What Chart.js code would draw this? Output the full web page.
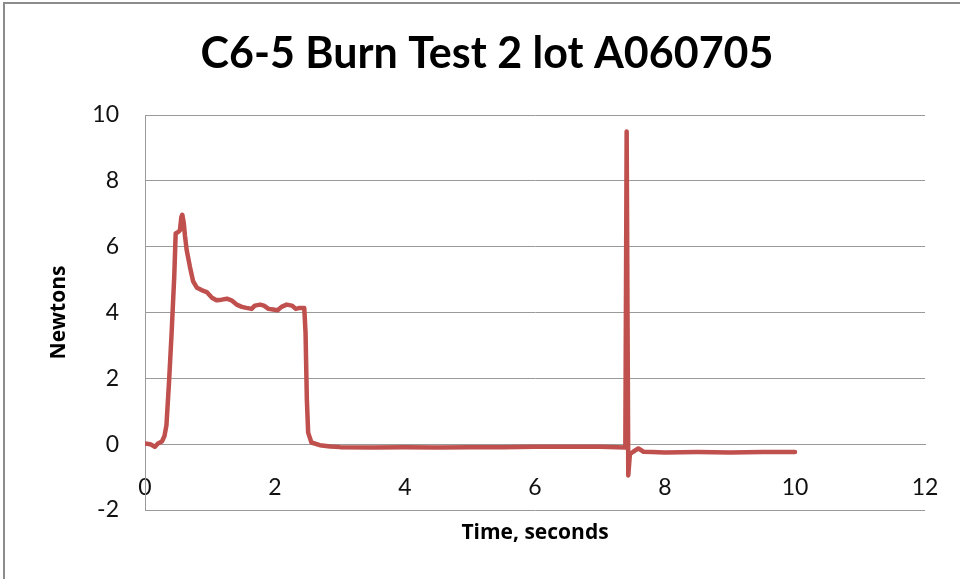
<!DOCTYPE html>
<html>
<head>
<meta charset="utf-8">
<script src="https://cdn.jsdelivr.net/npm/chart.js@4.4.1/dist/chart.umd.min.js"></script>
<style>
  html, body { margin: 0; padding: 0; background: #fff; }
  #wrap { position: relative; width: 960px; height: 579px; overflow: hidden; }
  #frame { position: absolute; left: 3px; top: 2px; width: 980px; height: 600px;
           border-top: 2px solid #8c8c8c; border-left: 2px solid #8c8c8c; pointer-events: none; }
</style>
</head>
<body>
<div id="wrap">
  <canvas id="c" width="960" height="579"></canvas>
  <div id="frame"></div>
</div>
<script>
const chartTitle = 'C6-5 Burn Test 2 lot A060705';
const xTitle = 'Time, seconds';
const yTitle = 'Newtons';
const xTicks = [0, 2, 4, 6, 8, 10, 12];
const yTicks = [-2, 0, 2, 4, 6, 8, 10];

const timeSec = [
  0, 0.08, 0.15, 0.2, 0.26, 0.3, 0.33, 0.37, 0.41, 0.45, 0.472, 0.513, 0.538, 0.559, 0.574, 0.595, 0.615, 0.641,
  0.69, 0.74, 0.8, 0.87, 0.95, 1.03, 1.1, 1.18, 1.26, 1.33, 1.41, 1.49, 1.56, 1.64, 1.69, 1.77, 1.83, 1.9,
  1.97, 2.04, 2.1, 2.18, 2.26, 2.32, 2.38, 2.45, 2.47, 2.49, 2.51, 2.56, 2.69, 2.85, 3.0, 3.5, 4.0, 4.5,
  5.0, 5.5, 6.0, 6.5, 7.0, 7.39, 7.41, 7.435, 7.46, 7.51, 7.59, 7.67, 7.8, 8.0, 8.5, 9.0, 9.5, 10.0
];
const thrustN = [
  0.02, 0.0, -0.08, 0.02, 0.08, 0.25, 0.58, 1.9, 3.4, 5.1, 6.4, 6.45, 6.5, 6.9, 6.97, 6.74, 6.33, 5.9,
  5.4, 4.95, 4.75, 4.68, 4.62, 4.45, 4.37, 4.39, 4.42, 4.37, 4.24, 4.17, 4.14, 4.11, 4.21, 4.24, 4.21, 4.11,
  4.09, 4.07, 4.17, 4.24, 4.21, 4.11, 4.14, 4.14, 3.38, 1.36, 0.35, 0.05, -0.03, -0.07, -0.09, -0.1, -0.09, -0.1,
  -0.09, -0.09, -0.08, -0.08, -0.08, -0.1, 9.5, -0.95, -0.3, -0.23, -0.13, -0.23, -0.24, -0.25, -0.24, -0.25, -0.24, -0.24
];

const points = timeSec.map((t, i) => ({ x: t, y: thrustN[i] }));

const gridColor = '#9a9a9a';
const textColor = '#111111';
const tickFont = "Lato, 'Open Sans', sans-serif";
const labelFont = "'Open Sans', Lato, sans-serif";
const noSidePad = (s) => { s.paddingLeft = 0; s.paddingRight = 0; };

new Chart(document.getElementById('c'), {
  type: 'line',
  data: {
    datasets: [{
      data: points,
      xAxisID: 'x',
      yAxisID: 'y',
      borderColor: '#C0504D',
      borderWidth: 4.5,
      pointRadius: 0,
      tension: 0,
      fill: false,
      borderJoinStyle: 'round',
      borderCapStyle: 'round'
    }]
  },
  options: {
    responsive: false,
    animation: false,
    layout: { padding: { left: 49, right: 35, top: 0, bottom: 33.4 } },
    plugins: {
      legend: { display: false },
      tooltip: { enabled: false },
      title: {
        display: true,
        text: chartTitle,
        color: '#000',
        font: { family: "Lato, sans-serif", weight: 'bold', size: 43, lineHeight: 1.2 },
        padding: { top: 28, bottom: 35.4 }
      }
    },
    scales: {
      x: {
        type: 'linear',
        position: { y: 0 },
        min: 0, max: 12,
        afterBuildTicks: (s) => { s.ticks = xTicks.map(v => ({ value: v })); },
        afterFit: noSidePad,
        grid: { display: false, drawTicks: false },
        border: { display: true, color: gridColor, width: 1 },
        ticks: { color: textColor, font: { family: tickFont, size: 23 }, padding: 30, maxRotation: 0 }
      },
      x2: {
        type: 'linear',
        position: 'bottom',
        min: 0, max: 12,
        afterFit: noSidePad,
        grid: { display: false, drawTicks: false },
        border: { display: false },
        ticks: { display: false },
        title: {
          display: true,
          text: xTitle,
          color: '#000',
          font: { family: labelFont, weight: 'bold', size: 21, lineHeight: 1.2 },
          padding: { top: 10.4, bottom: 0 }
        }
      },
      y: {
        min: -2, max: 10,
        afterBuildTicks: (s) => { s.ticks = yTicks.map(v => ({ value: v })); },
        afterFit: (s) => { s.width = 96; },
        grid: { color: gridColor, lineWidth: 1, drawTicks: false },
        border: { display: true, color: gridColor, width: 1 },
        ticks: { color: textColor, font: { family: tickFont, size: 23 }, padding: 26 },
        title: {
          display: true,
          text: yTitle,
          color: '#000',
          font: { family: labelFont, weight: 'bold', size: 21, lineHeight: 1.0 },
          padding: { top: 0, bottom: 0 }
        }
      }
    }
  }
});
</script>
</body>
</html>
